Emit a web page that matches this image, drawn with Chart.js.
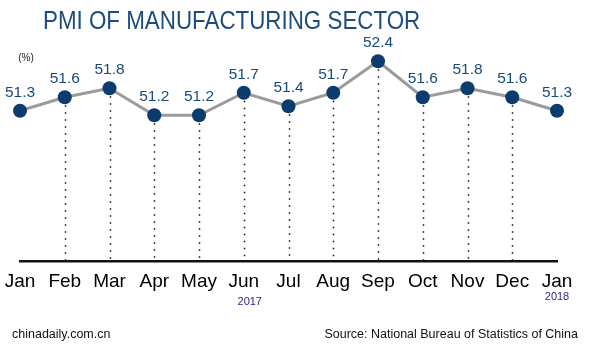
<!DOCTYPE html>
<html>
<head>
<meta charset="utf-8">
<script src="https://cdn.jsdelivr.net/npm/chart.js@4"></script>
<style>
  html,body{margin:0;padding:0;background:#fff;}
  #wrap{width:590px;height:345px;position:relative;}
</style>
</head>
<body>
<div id="wrap"><canvas id="pmiChart" width="590" height="345"></canvas></div>
<script>
const months = ['Jan','Feb','Mar','Apr','May','Jun','Jul','Aug','Sep','Oct','Nov','Dec','Jan'];
const pmi = [51.3, 51.6, 51.8, 51.2, 51.2, 51.7, 51.4, 51.7, 52.4, 51.6, 51.8, 51.6, 51.3];
const yearLabels = [{ index: 5, text: '2017', dx: 6, y: 305 }, { index: 12, text: '2018', dx: 0, y: 300 }];

const FONT = '"Liberation Sans", Arial, sans-serif';

// dotted drop lines from points to the baseline (not on the two Januaries)
const dropLines = {
  id: 'dropLines',
  beforeDatasetsDraw(chart){
    const ctx = chart.ctx, meta = chart.getDatasetMeta(0), bottom = chart.chartArea.bottom;
    ctx.save();
    ctx.strokeStyle = '#111';
    ctx.lineWidth = 1.5;
    ctx.setLineDash([1.5, 5.5]);
    meta.data.forEach((pt, i) => {
      if(i === 0 || i === meta.data.length - 1) return;
      ctx.beginPath();
      ctx.moveTo(Math.round(pt.x) + 0.5, pt.y + 8);
      ctx.lineTo(Math.round(pt.x) + 0.5, bottom);
      ctx.stroke();
    });
    ctx.restore();
  }
};

// values above points, title, years and footer
const decor = {
  id: 'decor',
  afterDatasetsDraw(chart){
    const ctx = chart.ctx, meta = chart.getDatasetMeta(0), xs = chart.scales.x;
    ctx.save();
    ctx.textAlign = 'center';
    ctx.textBaseline = 'alphabetic';
    ctx.fillStyle = '#194a7c';
    ctx.font = '15.5px ' + FONT;
    meta.data.forEach((pt, i) => ctx.fillText(pmi[i].toFixed(1), pt.x, pt.y - 14));

    ctx.fillStyle = '#2b2b8c';
    ctx.font = '11px ' + FONT;
    yearLabels.forEach(y => ctx.fillText(y.text, xs.getPixelForValue(y.index) + y.dx, y.y));

    ctx.fillStyle = '#222';
    ctx.font = '10px ' + FONT;
    ctx.fillText('(%)', 26, 61);

    ctx.textAlign = 'left';
    ctx.fillStyle = '#1d4c80';
    ctx.font = '26px ' + FONT;
    ctx.save();
    ctx.translate(43, 29);
    ctx.scale(0.86, 1);
    ctx.fillText('PMI OF MANUFACTURING SECTOR', 0, 0);
    ctx.restore();

    ctx.fillStyle = '#111';
    ctx.font = '12.5px ' + FONT;
    ctx.fillText('chinadaily.com.cn', 12, 338);
    ctx.textAlign = 'right';
    ctx.fillText('Source: National Bureau of Statistics of China', 578, 338);
    ctx.restore();
  }
};

new Chart(document.getElementById('pmiChart').getContext('2d'), {
  type: 'line',
  data: {
    labels: months,
    datasets: [{
      data: pmi,
      borderColor: '#9b9b9b',
      borderWidth: 3,
      pointRadius: 7,
      pointHoverRadius: 7,
      pointBackgroundColor: '#0c3c6d',
      pointBorderColor: '#0c3c6d',
      pointBorderWidth: 0,
      tension: 0,
      clip: false
    }]
  },
  options: {
    responsive: false,
    animation: false,
    events: [],
    layout: { padding: { left: 20, right: 33, top: 50, bottom: 44 } },
    plugins: { legend: { display: false }, tooltip: { enabled: false } },
    scales: {
      x: {
        offset: false,
        grid: { display: false, drawTicks: false },
        border: { display: true, color: '#111', width: 2.5 },
        ticks: { color: '#000', font: { family: FONT, size: 19 }, padding: 9, autoSkip: false, maxRotation: 0 },
        afterFit(s){ s.height = 40; s.paddingLeft = 0; s.paddingRight = 0; }
      },
      y: {
        display: false,
        min: 47.96,
        max: 52.65
      }
    }
  },
  plugins: [dropLines, decor]
});
</script>
</body>
</html>
